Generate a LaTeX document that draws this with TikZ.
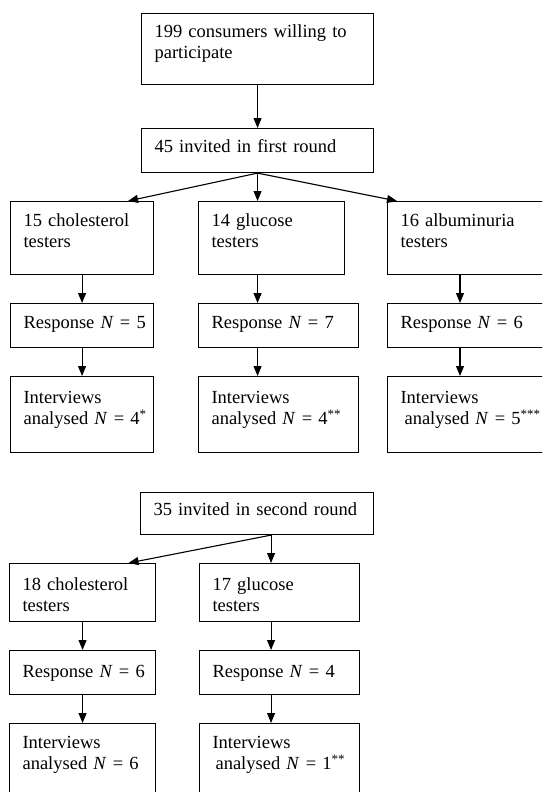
\documentclass[tikz,border=0pt]{standalone}
\usepackage{fontspec}
\setmainfont{Liberation Serif}
\usetikzlibrary{arrows.meta}

\tikzset{
  stage/.style={draw, line width=1.1pt, anchor=north west, inner xsep=13pt, inner ysep=0pt,
    align=left, font=\fontsize{18.5}{21}\selectfont},
  tall/.style={text height=25pt, text depth=48pt},
  low/.style={text height=25pt, text depth=19pt},
  talk/.style={text height=27pt, text depth=49pt},
  link/.style={line width=1.1pt, ->},
  >={Triangle[length=10pt,width=8pt]}
}

\begin{document}
\begin{tikzpicture}[x=1pt,y=-1pt]
\useasboundingbox (0,0) rectangle (542,792);
\clip (0,0) rectangle (542,792);
% first round
\node[stage, text width=206pt, text height=24pt, text depth=47pt] (cons) at (141,13) {199 consumers willing to\\participate};
\node[stage, text width=206pt, text height=24pt, text depth=20pt] (first) at (141,128) {45 invited in first round};
\node[stage, tall, text width=117pt] (chol1) at (10,201) {15 cholesterol\\testers};
\node[stage, tall, text width=120pt] (gluc1) at (198,201) {14 glucose\\testers};
\node[stage, tall, text width=160pt] (alb1) at (387,201) {16 albuminuria\\testers};
\node[stage, low, text width=117pt] (resp1) at (10,303) {Response~\textit{N}~=~5};
\node[stage, low, text width=134pt] (resp2) at (198,303) {Response~\textit{N}~=~7};
\node[stage, low, text width=160pt] (resp3) at (387,303) {Response~\textit{N}~=~6};
\node[stage, talk, text width=117pt] (int1) at (10,376) {Interviews\\analysed~\textit{N}~=~4\textsuperscript{*}};
\node[stage, talk, text width=134pt] (int2) at (198,376) {Interviews\\analysed~\textit{N}~=~4\textsuperscript{**}};
\node[stage, talk, text width=160pt] (int3) at (387,376) {Interviews\\\hspace{4pt}analysed~\textit{N}~=~5\textsuperscript{***}};
% second round
\node[stage, text width=207pt, text height=23pt, text depth=19pt] (second) at (140,492) {35 invited in second round};
\node[stage, text width=120pt, text height=27pt, text depth=31pt] (chol2) at (9,563) {18 cholesterol\\testers};
\node[stage, text width=134pt, text height=27pt, text depth=31pt] (gluc2) at (199,563) {17 glucose\\testers};
\node[stage, text width=120pt, text height=27pt, text depth=17pt] (resp4) at (9,650) {Response~\textit{N}~=~6};
\node[stage, text width=134pt, text height=27pt, text depth=17pt] (resp5) at (199,650) {Response~\textit{N}~=~4};
\node[stage, text width=120pt, text height=25pt, text depth=50pt] (int4) at (9,723) {Interviews\\analysed~\textit{N}~=~6};
\node[stage, text width=134pt, text height=25pt, text depth=50pt] (int5) at (199,723) {Interviews\\\hspace{3pt}analysed~\textit{N}~=~1\textsuperscript{**}};

\draw[link] (cons) -- (first);
\draw[link] (first.south) -- ([xshift=46pt]chol1.north);
\draw[link] (first.south) -- (first.south |- gluc1.north);
\draw[link] (first.south) -- ([xshift=10pt]alb1.north west);
\draw[link] (chol1) -- (resp1);
\draw[link] (first.south |- gluc1.south) -- (first.south |- resp2.north);
\draw[link] ([xshift=73pt]alb1.south west) -- ([xshift=73pt]alb1.south west |- resp3.north);
\draw[link] (resp1) -- (int1);
\draw[link] (first.south |- resp2.south) -- (first.south |- int2.north);
\draw[link] ([xshift=73pt]alb1.south west |- resp3.south) -- ([xshift=73pt]alb1.south west |- int3.north);
\draw[link] ([xshift=14pt]second.south) -- ([xshift=46pt]chol2.north);
\draw[link] ([xshift=14pt]second.south) -- ([xshift=14pt]second.south |- gluc2.north);
\draw[link] (chol2) -- (resp4);
\draw[link] ([xshift=14pt]second.south |- gluc2.south) -- ([xshift=14pt]second.south |- resp5.north);
\draw[link] (resp4) -- (int4);
\draw[link] ([xshift=14pt]second.south |- resp5.south) -- ([xshift=14pt]second.south |- int5.north);
\end{tikzpicture}
\end{document}
